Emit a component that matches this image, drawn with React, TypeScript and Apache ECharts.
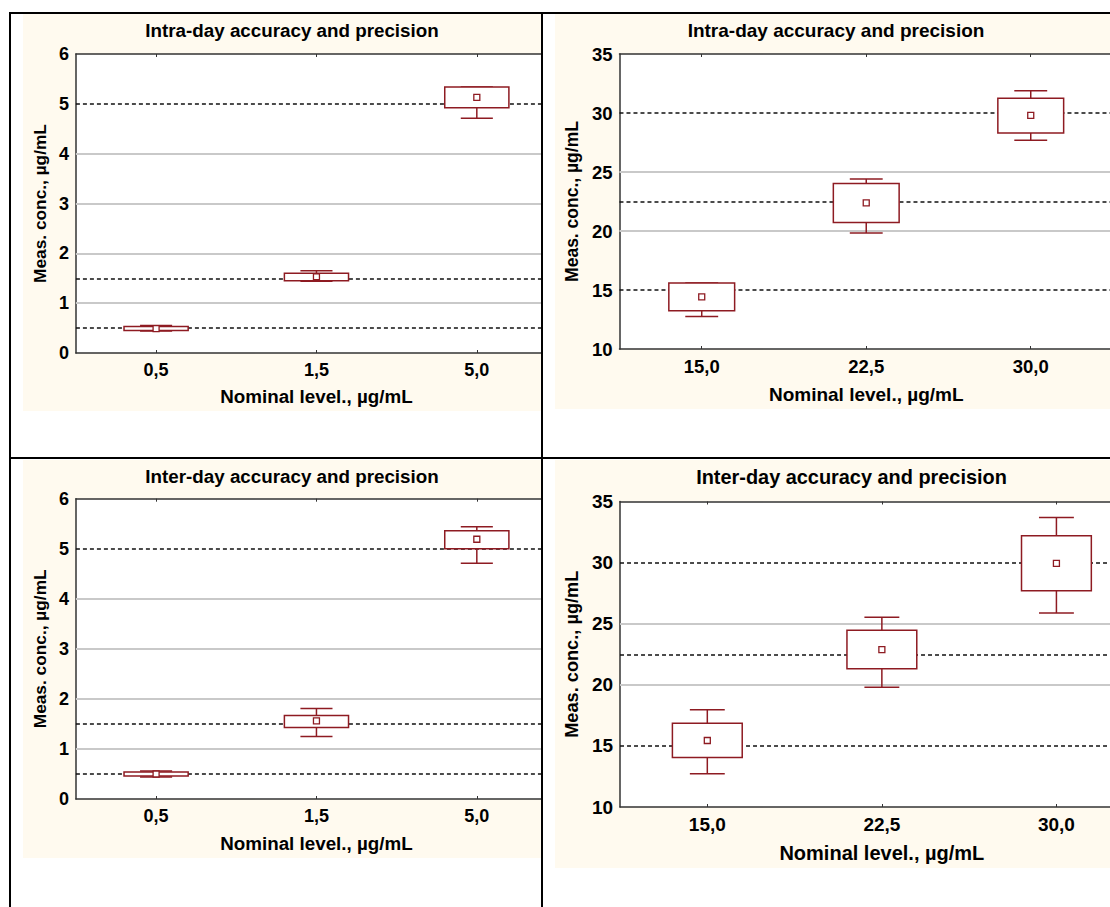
import React, { useEffect, useRef } from "react";
import * as echarts from "echarts";

// ---------- DATA ----------
const lowLevels = ["0,5", "1,5", "5,0"];
const highLevels = ["15,0", "22,5", "30,0"];
const lowNominal = [0.5, 1.5, 5];
const highNominal = [15, 22.5, 30];
const lowGridValues = [1, 2, 3, 4];
const highGridValues = [20, 25];

// Intra-day, low levels
const intraLowWhiskerLow = [0.44, 1.44, 4.71];
const intraLowBoxLow = [0.45, 1.45, 4.92];
const intraLowMean = [0.49, 1.53, 5.13];
const intraLowBoxHigh = [0.53, 1.6, 5.34];
const intraLowWhiskerHigh = [0.55, 1.65, 5.34];

// Intra-day, high levels
const intraHighWhiskerLow = [12.75, 19.83, 27.69];
const intraHighBoxLow = [13.25, 20.73, 28.31];
const intraHighMean = [14.41, 22.39, 29.8];
const intraHighBoxHigh = [15.59, 24.02, 31.26];
const intraHighWhiskerHigh = [15.59, 24.41, 31.88];

// Inter-day, low levels
const interLowWhiskerLow = [0.44, 1.25, 4.71];
const interLowBoxLow = [0.46, 1.43, 5.0];
const interLowMean = [0.5, 1.56, 5.19];
const interLowBoxHigh = [0.54, 1.67, 5.36];
const interLowWhiskerHigh = [0.56, 1.81, 5.44];

// Inter-day, high levels
const interHighWhiskerLow = [12.72, 19.8, 25.87];
const interHighBoxLow = [14.05, 21.32, 27.7];
const interHighMean = [15.44, 22.88, 29.93];
const interHighBoxHigh = [16.86, 24.46, 32.19];
const interHighWhiskerHigh = [17.95, 25.52, 33.7];

const intraTitle = "Intra-day accuracy and precision";
const interTitle = "Inter-day accuracy and precision";
const yName = "Meas. conc., µg/mL";
const xName = "Nominal level., µg/mL";

// ---------- STYLE ----------
const FONT = "'Liberation Sans', Arial, Helvetica, sans-serif";
const BOX = "#8E1B22";
const CREAM = "#FFFAEF";
const AXIS = "#333333";

type Layout = {
  left: number; top: number; w: number; h: number; chartW: number;
  gridLeft: number; gridTop: number; gridW: number; gridH: number;
  titleX: number; titleY: number; yNameGap: number; xNameGap: number;
  fs: number; titleFs: number; nameFs: number; yNameFs: number;
};

type Spec = {
  title: string; levels: string[];
  wl: number[]; bl: number[]; m: number[]; bh: number[]; wh: number[];
  nominal: number[]; gridValues: number[];
  yMin: number; yMax: number; yStep: number; layout: Layout;
};

const panels: Spec[] = [
  {
    title: intraTitle, levels: lowLevels,
    wl: intraLowWhiskerLow, bl: intraLowBoxLow, m: intraLowMean, bh: intraLowBoxHigh, wh: intraLowWhiskerHigh,
    nominal: lowNominal, gridValues: lowGridValues, yMin: 0, yMax: 6, yStep: 1,
    layout: { left: 23, top: 14, w: 518, h: 397, chartW: 580, gridLeft: 50, gridTop: 40, gridW: 484, gridH: 300.5,
      titleX: 269, titleY: 16.7, yNameGap: 26, xNameGap: 34, fs: 18, titleFs: 18.8, nameFs: 18.8, yNameFs: 17.3 },
  },
  {
    title: intraTitle, levels: highLevels,
    wl: intraHighWhiskerLow, bl: intraHighBoxLow, m: intraHighMean, bh: intraHighBoxHigh, wh: intraHighWhiskerHigh,
    nominal: highNominal, gridValues: highGridValues, yMin: 10, yMax: 35, yStep: 5,
    layout: { left: 555, top: 14, w: 555, h: 395, chartW: 620, gridLeft: 62, gridTop: 40, gridW: 496, gridH: 296,
      titleX: 281, titleY: 16.7, yNameGap: 38, xNameGap: 36, fs: 18.5, titleFs: 19, nameFs: 19, yNameFs: 17.5 },
  },
  {
    title: interTitle, levels: lowLevels,
    wl: interLowWhiskerLow, bl: interLowBoxLow, m: interLowMean, bh: interLowBoxHigh, wh: interLowWhiskerHigh,
    nominal: lowNominal, gridValues: lowGridValues, yMin: 0, yMax: 6, yStep: 1,
    layout: { left: 23, top: 460, w: 518, h: 398, chartW: 580, gridLeft: 50, gridTop: 38.7, gridW: 484, gridH: 301.3,
      titleX: 269, titleY: 16.7, yNameGap: 26, xNameGap: 35, fs: 18, titleFs: 18.8, nameFs: 18.8, yNameFs: 17.3 },
  },
  {
    title: interTitle, levels: highLevels,
    wl: interHighWhiskerLow, bl: interHighBoxLow, m: interHighMean, bh: interHighBoxHigh, wh: interHighWhiskerHigh,
    nominal: highNominal, gridValues: highGridValues, yMin: 10, yMax: 35, yStep: 5,
    layout: { left: 555, top: 460, w: 555, h: 408, chartW: 640, gridLeft: 64.3, gridTop: 41.5, gridW: 524.4, gridH: 305.8,
      titleX: 296.5, titleY: 16.7, yNameGap: 39, xNameGap: 36, fs: 19, titleFs: 19.9, nameFs: 20, yNameFs: 18.2 },
  },
];

function buildOption(s: Spec) {
  const L = s.layout;
  const data = s.levels.map((_, i) => [i, s.wl[i], s.bl[i], s.m[i], s.bh[i], s.wh[i]]);
  const lineData = [
    ...s.gridValues.map((v) => ({ yAxis: v, lineStyle: { color: "#c9c9c9", width: 2, type: "solid" } })),
    ...s.nominal.map((v) => ({ yAxis: v, lineStyle: { color: "#111111", width: 1.6, type: [4, 3] } })),
  ];
  const axisLabel = { fontFamily: FONT, fontWeight: "bold", fontSize: L.fs, color: "#000" };
  return {
    animation: false,
    backgroundColor: "transparent",
    textStyle: { fontFamily: FONT },
    graphic: [
      {
        type: "text",
        x: L.titleX,
        y: L.titleY,
        style: {
          text: s.title,
          fill: "#000",
          font: `bold ${L.titleFs}px ${FONT}`,
          textAlign: "center",
          textVerticalAlign: "middle",
        },
      },
    ],
    grid: {
      left: L.gridLeft, top: L.gridTop, width: L.gridW, height: L.gridH,
      show: true, backgroundColor: "#ffffff", borderWidth: 0,
    },
    xAxis: [
      {
        type: "category",
        data: s.levels,
        boundaryGap: true,
        position: "bottom",
        name: xName,
        nameLocation: "middle",
        nameGap: L.xNameGap,
        nameTextStyle: { fontFamily: FONT, fontWeight: "bold", fontSize: L.nameFs, color: "#000" },
        axisLine: { show: true, lineStyle: { color: AXIS, width: 1.5 } },
        axisTick: { show: true, inside: true, alignWithLabel: true, length: 3, lineStyle: { color: AXIS } },
        axisLabel: { ...axisLabel, margin: 8 },
        splitLine: { show: false },
      },
      {
        type: "category",
        data: s.levels,
        boundaryGap: true,
        position: "top",
        axisLine: { show: true, lineStyle: { color: AXIS, width: 1.5 } },
        axisTick: { show: true, inside: true, alignWithLabel: true, length: 3, lineStyle: { color: AXIS } },
        axisLabel: { show: false },
        splitLine: { show: false },
      },
    ],
    yAxis: {
      type: "value",
      min: s.yMin,
      max: s.yMax,
      interval: s.yStep,
      name: yName,
      nameLocation: "middle",
      nameRotate: 90,
      nameGap: L.yNameGap,
      nameTextStyle: { fontFamily: FONT, fontWeight: "bold", fontSize: L.yNameFs, color: "#000" },
      axisLine: { show: true, lineStyle: { color: AXIS, width: 1.5 } },
      axisTick: { show: false },
      axisLabel: { ...axisLabel, margin: 7 },
      splitLine: { show: false },
    },
    series: [
      {
        type: "custom",
        z: 3,
        xAxisIndex: 0,
        encode: { x: 0, y: [1, 2, 3, 4, 5] },
        data,
        markLine: {
          z: 1,
          silent: true,
          symbol: ["none", "none"],
          label: { show: false },
          animation: false,
          data: lineData,
        },
        renderItem: (_params: any, api: any) => {
          const i = api.value(0);
          const band = api.size([1, 0])[0];
          const cx = api.coord([i, api.value(3)])[0];
          const yWl = api.coord([i, api.value(1)])[1];
          const yBl = api.coord([i, api.value(2)])[1];
          const yM = api.coord([i, api.value(3)])[1];
          const yBh = api.coord([i, api.value(4)])[1];
          const yWh = api.coord([i, api.value(5)])[1];
          const boxW = band * 0.4;
          const capW = band * 0.2;
          const st = { stroke: BOX, lineWidth: 1.5, fill: "none" };
          return {
            type: "group",
            children: [
              { type: "line", shape: { x1: cx, y1: yBh, x2: cx, y2: yWh }, style: st },
              { type: "line", shape: { x1: cx - capW / 2, y1: yWh, x2: cx + capW / 2, y2: yWh }, style: st },
              { type: "line", shape: { x1: cx, y1: yBl, x2: cx, y2: yWl }, style: st },
              { type: "line", shape: { x1: cx - capW / 2, y1: yWl, x2: cx + capW / 2, y2: yWl }, style: st },
              {
                type: "rect",
                shape: { x: cx - boxW / 2, y: yBh, width: boxW, height: yBl - yBh },
                style: { fill: "#ffffff", stroke: BOX, lineWidth: 1.5 },
              },
              {
                type: "rect",
                shape: { x: cx - 3, y: yM - 3, width: 6, height: 6 },
                style: { fill: "#ffffff", stroke: BOX, lineWidth: 1.3 },
              },
            ],
          };
        },
      },
    ],
  };
}

function Panel({ spec }: { spec: Spec }) {
  const ref = useRef<HTMLDivElement>(null);
  useEffect(() => {
    if (!ref.current) return;
    const chart = echarts.init(ref.current, undefined, { renderer: "svg" });
    chart.setOption(buildOption(spec) as any);
    return () => chart.dispose();
  }, [spec]);
  const L = spec.layout;
  return (
    <div
      style={{
        position: "absolute", left: L.left, top: L.top, width: L.w, height: L.h,
        overflow: "hidden", background: CREAM,
      }}
    >
      <div ref={ref} style={{ position: "absolute", left: 0, top: 0, width: L.chartW, height: L.h }} />
    </div>
  );
}

const line = (left: number, top: number, width: number, height: number) => (
  <div style={{ position: "absolute", left, top, width, height, background: "#000" }} />
);

export default function App() {
  return (
    <div style={{ position: "absolute", left: 0, top: 0, width: 1110, height: 907, background: "#fff", overflow: "hidden" }}>
      {panels.map((p, i) => (
        <Panel key={i} spec={p} />
      ))}
      {line(9, 12, 1101, 2)}
      {line(9, 12, 2, 895)}
      {line(541, 12, 2, 895)}
      {line(9, 457, 1101, 2)}
    </div>
  );
}
